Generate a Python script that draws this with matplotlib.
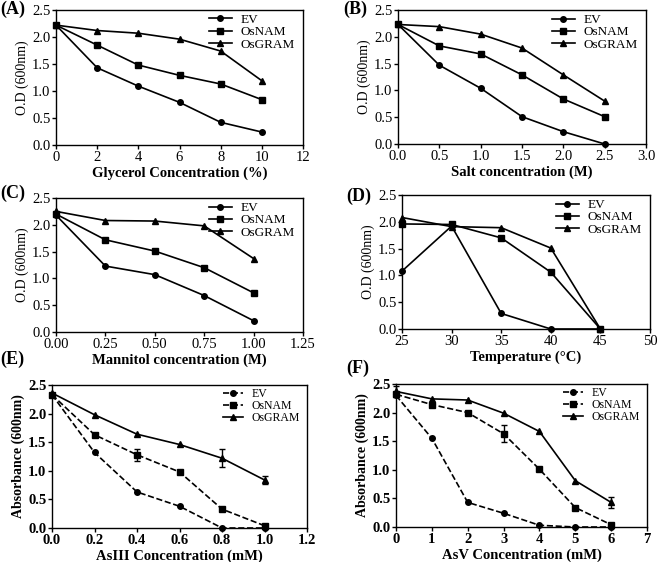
import numpy as np
import matplotlib.pyplot as plt

plt.rcParams['font.family'] = ['Liberation Serif', 'DejaVu Serif']

names = ['EV', 'OsNAM', 'OsGRAM']
markers = ['o', 's', '^']

# (A) glycerol
glyc_x = [0, 2, 4, 6, 8, 10]
glyc_ev = [2.22, 1.43, 1.09, 0.79, 0.42, 0.24]
glyc_nam = [2.22, 1.85, 1.48, 1.29, 1.13, 0.84]
glyc_gram = [2.22, 2.12, 2.07, 1.96, 1.74, 1.19]

# (B) salt
salt_x = [0, 0.5, 1.0, 1.5, 2.0, 2.5]
salt_ev = [2.23, 1.47, 1.04, 0.51, 0.23, 0.0]
salt_nam = [2.23, 1.83, 1.68, 1.29, 0.84, 0.51]
salt_gram = [2.23, 2.19, 2.05, 1.79, 1.29, 0.80]

# (C) mannitol
mann_x = [0, 0.25, 0.5, 0.75, 1.0]
mann_ev = [2.18, 1.23, 1.07, 0.68, 0.21]
mann_nam = [2.20, 1.72, 1.51, 1.20, 0.73]
mann_gram = [2.25, 2.08, 2.07, 1.98, 1.37]

# (D) temperature
temp_x = [25, 30, 35, 40, 45]
temp_ev = [1.08, 1.92, 0.29, 0.0, 0.0]
temp_nam = [1.96, 1.95, 1.70, 1.06, 0.0]
temp_gram = [2.08, 1.91, 1.89, 1.51, 0.0]

# (E) AsIII
as3_x = [0, 0.2, 0.4, 0.6, 0.8, 1.0]
as3_ev = [2.33, 1.32, 0.63, 0.38, 0.0, 0.0]
as3_nam = [2.33, 1.63, 1.28, 0.98, 0.33, 0.04]
as3_gram = [2.36, 1.98, 1.64, 1.46, 1.22, 0.84]
as3_nam_err = [0.0, 0.0, 0.10, 0.0, 0.0, 0.0]
as3_gram_err = [0.0, 0.0, 0.0, 0.0, 0.16, 0.07]

# (F) AsV
as5_x = [0, 1, 2, 3, 4, 5, 6]
as5_ev = [2.30, 1.55, 0.43, 0.24, 0.03, 0.0, 0.0]
as5_nam = [2.32, 2.14, 2.00, 1.63, 1.01, 0.34, 0.04]
as5_gram = [2.37, 2.24, 2.22, 1.99, 1.67, 0.81, 0.43]
as5_nam_err = [0.0, 0.0, 0.0, 0.15, 0.0, 0.0, 0.0]
as5_gram_err = [0.10, 0.0, 0.0, 0.0, 0.0, 0.0, 0.10]

fig = plt.figure(figsize=(6.59, 5.62), dpi=100)
W, H = 659, 562

def make_ax(l, r, t, b):
    return fig.add_axes([l / W, 1 - b / H, (r - l) / W, (b - t) / H])

def style(ax, xlim, xticks, xlabel, ylabel, letter, letter_pos, fmt, bold=False):
    ax.set_xlim(xlim)
    ax.set_ylim(0, 2.5)
    ax.set_xticks(xticks)
    ax.set_xticklabels([fmt.format(v) for v in xticks])
    yt = [0, 0.5, 1.0, 1.5, 2.0, 2.5]
    ax.set_yticks(yt)
    ax.set_yticklabels(['{:.1f}'.format(v) for v in yt])
    ax.tick_params(labelsize=10.5, length=3, width=1, pad=1)
    if bold:
        for lab in ax.get_xticklabels() + ax.get_yticklabels():
            lab.set_fontweight('bold')
    ax.set_xlabel(xlabel, fontsize=10.5, fontweight='bold', labelpad=2)
    ax.set_ylabel(ylabel, fontsize=10, fontweight='bold' if bold else 'normal', labelpad=2)
    for s in ax.spines.values():
        s.set_linewidth(1)
    fig.text(letter_pos[0] / W, 1 - letter_pos[1] / H, letter, fontsize=13,
             fontweight='bold', va='center', ha='left')
    ax.legend(loc='upper right', bbox_to_anchor=(1.0, 1.03), frameon=False,
              handlelength=1.7, labelspacing=0.0, borderaxespad=0.2,
              handletextpad=0.7, prop={'size': 8.5 if bold else 9.5})

def draw(ax, x, ys, errs=None, dashed=(False, False, False)):
    for i, y in enumerate(ys):
        ls = '--' if dashed[i] else '-'
        if errs is not None and errs[i] is not None:
            e = np.array(errs[i])
            keep = e > 0
            ax.errorbar(np.array(x)[keep], np.array(y)[keep], yerr=e[keep],
                        color='black', fmt='none', capsize=2, elinewidth=1,
                        clip_on=False)
        ax.plot(x, y, color='black', marker=markers[i], ms=4, lw=1.2, ls=ls,
                label=names[i], clip_on=False)

ax = make_ax(56, 303, 10, 145)
draw(ax, glyc_x, [glyc_ev, glyc_nam, glyc_gram])
style(ax, (0, 12), [0, 2, 4, 6, 8, 10, 12], 'Glycerol Concentration (%)', 'O.D (600nm)',
      '(A)', (0, 9), '{:g}')

ax = make_ax(398, 646, 10, 144)
draw(ax, salt_x, [salt_ev, salt_nam, salt_gram])
style(ax, (0, 3), [0, 0.5, 1.0, 1.5, 2.0, 2.5, 3.0], 'Salt concentration (M)', 'O.D (600nm)',
      '(B)', (343, 9), '{:.1f}')

ax = make_ax(56, 303, 198, 332)
draw(ax, mann_x, [mann_ev, mann_nam, mann_gram])
style(ax, (0, 1.25), [0, 0.25, 0.5, 0.75, 1.0, 1.25], 'Mannitol concentration (M)', 'O.D (600nm)',
      '(C)', (0, 193), '{:.2f}')

ax = make_ax(402, 650, 195, 329)
draw(ax, temp_x, [temp_ev, temp_nam, temp_gram])
style(ax, (25, 50), [25, 30, 35, 40, 45, 50], 'Temperature (°C)', 'O.D (600nm)',
      '(D)', (346, 196), '{:g}')

ax = make_ax(52, 307, 385, 528)
draw(ax, as3_x, [as3_ev, as3_nam, as3_gram], errs=[None, as3_nam_err, as3_gram_err],
     dashed=(True, True, False))
style(ax, (0, 1.2), [0, 0.2, 0.4, 0.6, 0.8, 1.0, 1.2], 'AsIII Concentration (mM)',
      'Absorbance (600nm)', '(E)', (0, 359), '{:.1f}', bold=True)

ax = make_ax(396, 647, 384, 527)
draw(ax, as5_x, [as5_ev, as5_nam, as5_gram], errs=[None, as5_nam_err, as5_gram_err],
     dashed=(True, True, False))
style(ax, (0, 7), [0, 1, 2, 3, 4, 5, 6, 7], 'AsV Concentration (mM)',
      'Absorbance (600nm)', '(F)', (346, 368), '{:g}', bold=True)

fig.savefig('out.png', dpi=100)
